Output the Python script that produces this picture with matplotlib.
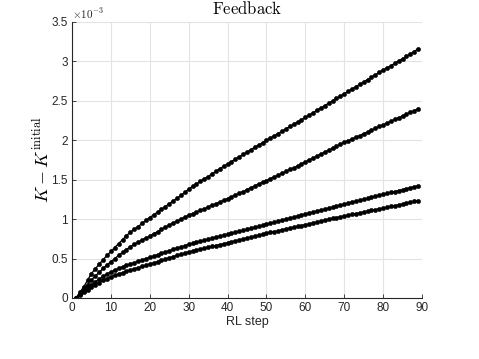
import matplotlib
matplotlib.use("Agg")
import matplotlib.pyplot as plt
from matplotlib.ticker import FuncFormatter, MultipleLocator

steps = list(range(1, 90))

series_a = [0.000, 0.070, 0.140, 0.225, 0.310, 0.370, 0.430, 0.485, 0.540, 0.590,
            0.640, 0.690, 0.740, 0.790, 0.835, 0.870, 0.905, 0.945, 0.985, 1.020,
            1.055, 1.090, 1.125, 1.160, 1.195, 1.230, 1.265, 1.300, 1.340, 1.380,
            1.415, 1.445, 1.480, 1.510, 1.540, 1.575, 1.605, 1.640, 1.670, 1.700,
            1.730, 1.760, 1.790, 1.820, 1.850, 1.880, 1.910, 1.940, 1.970, 2.000,
            2.030, 2.055, 2.085, 2.115, 2.145, 2.175, 2.205, 2.230, 2.260, 2.290,
            2.320, 2.350, 2.380, 2.410, 2.440, 2.470, 2.500, 2.530, 2.560, 2.590,
            2.620, 2.650, 2.680, 2.710, 2.740, 2.770, 2.800, 2.830, 2.860, 2.890,
            2.920, 2.945, 2.975, 3.005, 3.035, 3.065, 3.095, 3.125, 3.160]

series_b = [0.000, 0.055, 0.110, 0.170, 0.230, 0.280, 0.325, 0.375, 0.420, 0.460,
            0.500, 0.540, 0.580, 0.615, 0.650, 0.680, 0.710, 0.735, 0.760, 0.785,
            0.815, 0.840, 0.870, 0.895, 0.925, 0.950, 0.975, 1.000, 1.025, 1.050,
            1.070, 1.090, 1.110, 1.130, 1.155, 1.175, 1.195, 1.215, 1.240, 1.260,
            1.285, 1.305, 1.330, 1.350, 1.375, 1.400, 1.420, 1.445, 1.465, 1.490,
            1.515, 1.535, 1.560, 1.580, 1.605, 1.630, 1.650, 1.675, 1.700, 1.725,
            1.750, 1.775, 1.800, 1.825, 1.850, 1.875, 1.900, 1.925, 1.950, 1.975,
            1.995, 2.015, 2.040, 2.060, 2.085, 2.105, 2.130, 2.150, 2.175, 2.195,
            2.220, 2.240, 2.265, 2.285, 2.310, 2.330, 2.355, 2.375, 2.400]

series_c = [0.000, 0.045, 0.090, 0.130, 0.170, 0.205, 0.240, 0.275, 0.305, 0.330,
            0.355, 0.375, 0.395, 0.415, 0.430, 0.448, 0.465, 0.482, 0.500, 0.515,
            0.532, 0.550, 0.567, 0.584, 0.600, 0.616, 0.632, 0.648, 0.664, 0.680,
            0.693, 0.706, 0.719, 0.732, 0.745, 0.758, 0.771, 0.784, 0.797, 0.810,
            0.822, 0.834, 0.846, 0.858, 0.870, 0.883, 0.896, 0.909, 0.922, 0.935,
            0.948, 0.961, 0.974, 0.987, 1.000, 1.013, 1.026, 1.039, 1.052, 1.065,
            1.078, 1.090, 1.102, 1.114, 1.126, 1.138, 1.152, 1.165, 1.178, 1.190,
            1.203, 1.215, 1.228, 1.240, 1.253, 1.265, 1.278, 1.290, 1.303, 1.315,
            1.327, 1.338, 1.350, 1.362, 1.374, 1.386, 1.398, 1.410, 1.422]

series_d = [0.000, 0.035, 0.070, 0.103, 0.135, 0.165, 0.195, 0.222, 0.247, 0.270,
            0.288, 0.305, 0.322, 0.339, 0.355, 0.370, 0.385, 0.400, 0.415, 0.430,
            0.446, 0.462, 0.478, 0.494, 0.510, 0.525, 0.540, 0.555, 0.570, 0.585,
            0.596, 0.608, 0.619, 0.631, 0.642, 0.654, 0.665, 0.677, 0.688, 0.700,
            0.712, 0.724, 0.736, 0.748, 0.760, 0.772, 0.784, 0.796, 0.808, 0.820,
            0.831, 0.842, 0.853, 0.864, 0.875, 0.886, 0.897, 0.908, 0.919, 0.930,
            0.941, 0.953, 0.964, 0.976, 0.987, 0.998, 1.010, 1.020, 1.030, 1.040,
            1.050, 1.060, 1.070, 1.080, 1.090, 1.100, 1.110, 1.120, 1.130, 1.140,
            1.150, 1.161, 1.171, 1.182, 1.192, 1.203, 1.213, 1.224, 1.235]

scale = 1e-3
title = "Feedback"
xlabel = "RL step"

plt.rcParams['mathtext.fontset'] = 'cm'
plt.rcParams['font.family'] = ['Liberation Sans', 'DejaVu Sans']

fig = plt.figure(figsize=(4.79, 3.59), dpi=100)
ax = fig.add_axes([72/479, 61/359, 350/479, 276/359])

for s in (series_a, series_b, series_c, series_d):
    ax.plot(steps, [v * scale for v in s], '-', color='black', lw=1.0,
            marker='o', markersize=3.0, markerfacecolor='black',
            markeredgecolor='black', markeredgewidth=0.4)

ax.set_xlim(0, 90)
ax.set_ylim(0, 3.5e-3)
ax.xaxis.set_major_locator(MultipleLocator(10))
ax.yaxis.set_major_locator(MultipleLocator(0.5e-3))
ax.yaxis.set_major_formatter(FuncFormatter(lambda v, p: f"{v/scale:g}"))

tc = '#262626'
ax.grid(True, color='#e3e3e3', lw=0.8)
ax.set_axisbelow(True)
for side in ('top', 'right'):
    ax.spines[side].set_visible(False)
for side in ('left', 'bottom'):
    ax.spines[side].set_color(tc)
    ax.spines[side].set_linewidth(0.8)
ax.tick_params(direction='in', length=3, width=0.6, colors=tc,
               labelsize=8.5, labelcolor=tc, pad=3)

ax.text(0.0, 1.005, r'$\times 10^{-3}$', transform=ax.transAxes,
        ha='left', va='bottom', fontsize=8, color=tc,
        family=['DejaVu Sans'])

ax.set_title(r'$\mathrm{Feedback}$', fontsize=12, pad=6, color='black')
ax.set_xlabel(xlabel, fontsize=9, color=tc, labelpad=1)
ax.set_ylabel(r'$K - K^{\mathrm{initial}}$', fontsize=13, labelpad=-1)

fig.savefig('out.png', dpi=100)
